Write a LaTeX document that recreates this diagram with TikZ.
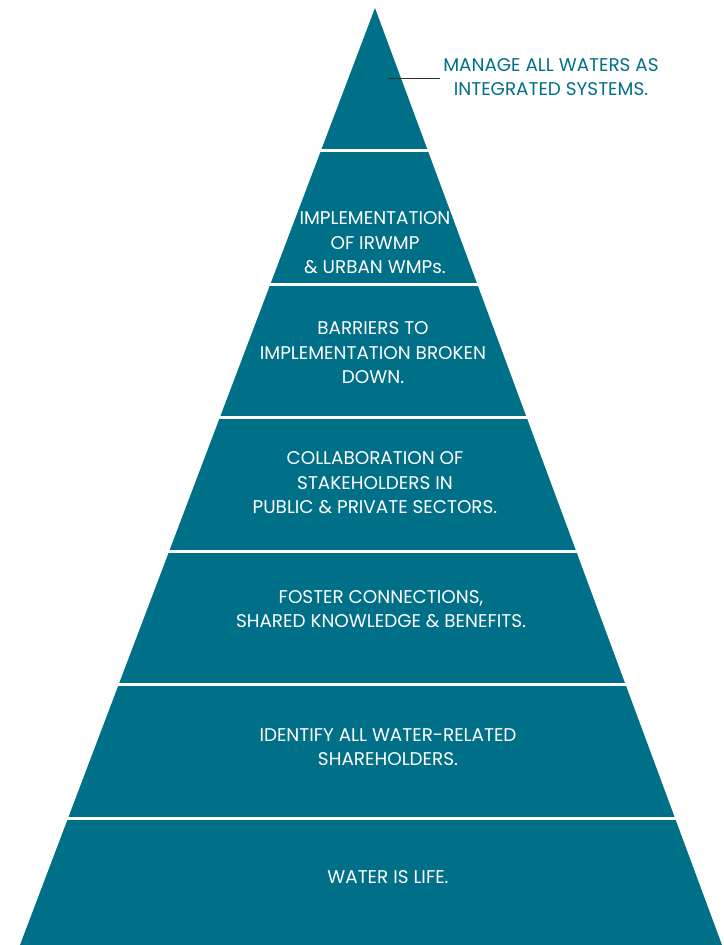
\documentclass[tikz,border=0pt]{standalone}
\usepackage{fontspec}
\setmainfont{Poppins}
\definecolor{teal1}{HTML}{006F88}
\begin{document}
\begin{tikzpicture}[x=1pt,y=-1pt,
  lbl/.style={text=white,align=center,font=\fontsize{18.4}{24.5}\selectfont,inner sep=0pt},
  sep/.style={draw=white,line width=3pt}]
\useasboundingbox (0,0) rectangle (723,945);
\coordinate (apex) at (375,8);
\coordinate (bl) at (20,945);
\coordinate (br) at (722,945);
\fill[teal1] (apex) -- (br) -- (bl) -- cycle;
\foreach \y in {150,284,417,551,684,818}{
  \draw[sep] (0,\y) -- (723,\y);
}
\node[lbl] (s2) at (375,243) {IMPLEMENTATION\\OF IRWMP\\\& URBAN WMPs.};
\node[lbl] (s3) at (373,353) {BARRIERS TO\\IMPLEMENTATION BROKEN\\DOWN.};
\node[lbl] (s4) at (375,483) {COLLABORATION OF\\STAKEHOLDERS IN\\PUBLIC \& PRIVATE SECTORS.};
\node[lbl] (s5) at (381,609) {FOSTER CONNECTIONS,\\SHARED KNOWLEDGE \& BENEFITS.};
\node[lbl] (s6) at (388,747) {IDENTIFY ALL WATER-RELATED\\SHAREHOLDERS.};
\node[lbl] (s7) at (388,877) {WATER IS LIFE.};
\node[lbl,text=teal1] (top) at (551,77) {MANAGE ALL WATERS AS\\INTEGRATED SYSTEMS.};
\coordinate (lead) at (388,78);
\draw[black!80,line width=1pt] (lead) -- (440,78);
\end{tikzpicture}
\end{document}
